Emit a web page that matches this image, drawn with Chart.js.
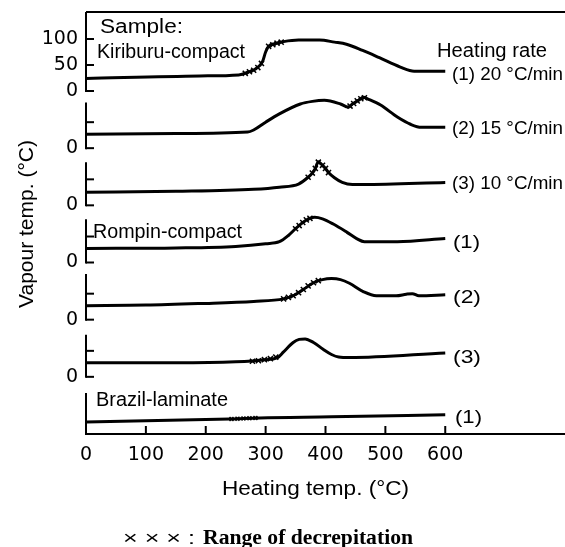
<!DOCTYPE html>
<html><head><meta charset="utf-8">
<script src="https://cdn.jsdelivr.net/npm/chart.js@4.4.1/dist/chart.umd.min.js"></script>
<style>html,body{margin:0;padding:0;background:#fff;}#wrap{width:565px;height:547px;}</style>
</head><body><div id="wrap"><canvas id="c" width="565" height="547"></canvas></div>
<script>
// ---------- DATA ----------
// heating temperature (°C) vs vapour temperature (°C), one curve per panel
const heatingTicks = [0, 100, 200, 300, 400, 500, 600];
const panelOffsets = [660, 550, 440, 330, 220, 110, 0];   // vertical offset of each panel's zero
const kiriburu20 = [[0,24],[190,29],[255,31],[270,36],[285,44],[295,57],[300,75],[305,86],[315,91],[330,95],[355,98],[390,98],[415,94],[435,90],[462,78],[490,64],[525,46],[548,38],[600,38]];
const kiriburu15 = [[0,27],[150,28],[270,31],[280,35],[300,50],[323,66],[358,85],[378,90],[398,92],[425,85],[438,79],[445,85],[455,92],[463,98],[472,94],[492,83],[520,60],[542,46],[560,40],[600,40]];
const kiriburu10 = [[0,25],[150,27],[280,31],[323,35],[355,41],[371,54],[378,62],[383,71],[388,84],[395,77],[400,71],[405,63],[415,53],[428,44],[445,40],[463,40],[600,44]];
const rompin1 = [[0,27],[150,28],[250,31],[300,36],[323,40],[338,52],[350,65],[362,77],[374,85],[382,87],[395,84],[413,74],[436,58],[452,46],[465,40],[520,40],[600,46]];
const rompin2 = [[0,27],[100,28],[190,31],[280,35],[330,40],[346,46],[363,58],[380,71],[395,77],[410,79],[425,77],[440,70],[463,54],[485,46],[518,46],[535,49],[545,50],[556,46],[600,48]];
const rompin3 = [[0,27],[150,27],[250,29],[300,33],[320,37],[330,48],[346,66],[356,72],[366,73],[380,66],[396,53],[410,43],[422,38],[440,37],[600,46]];
const brazil1 = [[0,23],[240,29],[290,31],[410,33],[600,37]];
// decrepitation marks (× × ×)
const decrepK20 = [[266,34],[273,37],[280,40],[287,45],[293,53],[305,86],[312,89],[319,92],[326,94]];
const decrepK15 = [[441,81],[447,86],[453,91],[459,95],[465,97]];
const decrepK10 = [[371,54],[378,62],[383,71],[388,83],[395,77],[400,71],[405,63]];
const decrepR1 = [[350,65],[356,71],[362,77],[368,82],[374,85]];
const decrepR2 = [[330,40],[338,43],[346,46],[355,52],[363,58],[371,65],[380,71],[388,75]];
const decrepR3 = [[278,30],[288,31],[298,33],[308,35],[317,38]];
const decrepB1 = [[243,29],[253,29.5],[263,30],[273,30.5],[283,31]];
// y-axis tick values (global) and labels
const yTickValues = [760, 710, 660, 550, 440, 330, 220, 110];
const yTickLabels = ['100', '50', '0', '0', '0', '0', '0', '0'];
// panel axis: height of each left axis segment, and inner tick marks (panel units)
const panelAxisTop = [152, 88, 83, 83, 88, 81, 79];
const panelTicks = [[0,50,100],[0,50],[0,50],[0,50],[0,50],[0,50],[]];
// texts
const texts = {
  sample: 'Sample:', kiri: 'Kiriburu-compact', rateTitle: 'Heating rate',
  r1: '(1) 20 °C/min', r2: '(2) 15 °C/min', r3: '(3) 10 °C/min',
  rompin: 'Rompin-compact', p1: '(1)', p2: '(2)', p3: '(3)',
  brazil: 'Brazil-laminate', b1: '(1)',
  xTitle: 'Heating temp. (°C)', yTitle: 'Vapour temp. (°C)',
  legMarks: '× × × :', legText: 'Range of decrepitation'
};

// ---------- layout ----------
const SANS = '"Liberation Sans", Arial, sans-serif';
const SERIF = '"Liberation Serif", "Times New Roman", serif';
const textLayout = [
  {k:'sample', x:100, y:33, w:83, size:20},
  {k:'kiri', x:97, y:58, w:148, size:20},
  {k:'rateTitle', x:437, y:57, w:110, size:20},
  {k:'r1', x:452, y:80, w:111, size:19},
  {k:'r2', x:452, y:134, w:111, size:19},
  {k:'r3', x:452, y:189, w:111, size:19},
  {k:'rompin', x:93, y:238, w:149, size:20},
  {k:'p1', x:453, y:248, w:27, size:19},
  {k:'p2', x:453, y:303, w:28, size:19},
  {k:'p3', x:453, y:363, w:28, size:19},
  {k:'brazil', x:96, y:406, w:132, size:20},
  {k:'b1', x:455, y:423, w:27, size:19},
  {k:'xTitle', x:222, y:495, w:187, size:20},
  {k:'legMarks', x:123, y:544, w:72, size:18},
  {k:'legText', x:203, y:544, w:210, size:20, family:SERIF, weight:'bold'}
];

const curves = [kiriburu20, kiriburu15, kiriburu10, rompin1, rompin2, rompin3, brazil1];
const marks = [decrepK20, decrepK15, decrepK10, decrepR1, decrepR2, decrepR3, decrepB1];
const toXY = (arr, off) => arr.map(([t, v]) => ({x: t, y: off + v}));

const datasets = [];
curves.forEach((c, i) => datasets.push({
  data: toXY(c, panelOffsets[i]), borderColor: '#000', borderWidth: 3,
  pointRadius: 0, tension: 0.4, cubicInterpolationMode: 'monotone', fill: false
}));
marks.forEach((m, i) => datasets.push({
  data: toXY(m, panelOffsets[i]), showLine: false, pointStyle: 'crossRot',
  pointRadius: i === 6 ? 2.8 : 3.6, borderColor: '#000', borderWidth: 1.5, backgroundColor: '#000'
}));

function fitText(ctx, txt, x, y, w, size, family, weight) {
  ctx.font = `${weight || 'normal'} ${size}px ${family || SANS}`;
  const m = ctx.measureText(txt).width;
  ctx.save();
  ctx.translate(x, y);
  ctx.scale(w / m, 1);
  ctx.fillText(txt, 0, 0);
  ctx.restore();
}

const decor = {
  id: 'decor',
  afterDraw(chart) {
    const ctx = chart.ctx, xs = chart.scales.x, ys = chart.scales.y, a = chart.chartArea;
    ctx.save();
    ctx.strokeStyle = '#000'; ctx.lineWidth = 2; ctx.lineCap = 'butt';
    // top frame line
    ctx.beginPath(); ctx.moveTo(a.left, a.top); ctx.lineTo(a.right, a.top); ctx.stroke();
    // panel axis segments + inward ticks
    const ax = xs.getPixelForValue(0);
    panelOffsets.forEach((off, i) => {
      const y0 = ys.getPixelForValue(off), y1 = ys.getPixelForValue(Math.min(off + panelAxisTop[i], ys.max));
      ctx.beginPath(); ctx.moveTo(ax, y0 + 1); ctx.lineTo(ax, y1); ctx.stroke();
      panelTicks[i].forEach(v => {
        const ty = ys.getPixelForValue(off + v);
        ctx.beginPath(); ctx.moveTo(ax, ty); ctx.lineTo(ax + 8, ty); ctx.stroke();
      });
    });
    // x ticks (inward)
    heatingTicks.forEach(t => {
      const tx = xs.getPixelForValue(t), by = a.bottom;
      ctx.beginPath(); ctx.moveTo(tx, by); ctx.lineTo(tx, by - 8); ctx.stroke();
    });
    // texts
    ctx.fillStyle = '#000'; ctx.textBaseline = 'alphabetic'; ctx.textAlign = 'left';
    textLayout.forEach(t => fitText(ctx, texts[t.k], t.x, t.y, t.w, t.size, t.family, t.weight));
    // y title
    ctx.save();
    ctx.translate(33, 224); ctx.rotate(-Math.PI / 2);
    ctx.textAlign = 'left';
    fitText(ctx, texts.yTitle, -84, 0, 168, 20);
    ctx.restore();
    ctx.restore();
  }
};

new Chart(document.getElementById('c'), {
  type: 'line',
  data: { datasets },
  options: {
    responsive: false, animation: false, devicePixelRatio: 1,
    layout: { autoPadding: false, padding: { top: 12, left: 0, right: 0, bottom: 0 } },
    plugins: { legend: { display: false }, tooltip: { enabled: false } },
    scales: {
      x: {
        type: 'linear', min: 0, max: 800, position: 'bottom',
        grid: { display: false, drawTicks: false },
        border: { display: true, color: '#000', width: 2 },
        ticks: { color: '#000', font: { family: '"DejaVu Sans"', size: 19 }, padding: 10, autoSkip: false, maxRotation: 0,
          callback: (v) => heatingTicks.includes(v) ? String(v) : '' },
        afterBuildTicks: (s) => { s.ticks = heatingTicks.map(v => ({ value: v })); },
        afterFit: (s) => { s.height = 113; s.paddingLeft = 0; s.paddingRight = 0; }
      },
      y: {
        type: 'linear', min: 0, max: 812,
        grid: { display: false, drawTicks: false },
        border: { display: false },
        ticks: { color: '#000', font: { family: '"DejaVu Sans"', size: 19 }, padding: 8, autoSkip: false,
          callback: (v, i) => yTickLabels[i] },
        afterBuildTicks: (s) => { s.ticks = yTickValues.map(v => ({ value: v })); },
        afterFit: (s) => { s.width = 86; s.paddingTop = 0; s.paddingBottom = 0; }
      }
    }
  },
  plugins: [decor]
});
</script></body></html>
